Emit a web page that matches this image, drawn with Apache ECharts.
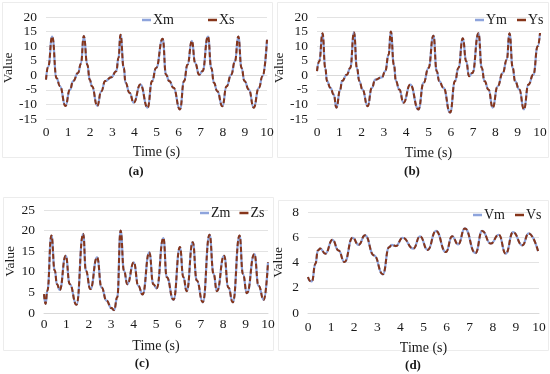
<!DOCTYPE html>
<html>
<head>
<meta charset="utf-8">
<script src="https://cdn.jsdelivr.net/npm/echarts@6/dist/echarts.min.js"></script>
<style>html,body{margin:0;padding:0;background:#fff;}#c{width:550px;height:374px;}</style>
</head>
<body>
<div id="c"></div>
<script>
// ---- Data ----
const timeTicks = [0,1,2,3,4,5,6,7,8,9,10];

const tA = [0,0.1,0.28,0.48,0.63,0.88,1.08,1.23,1.45,1.58,1.71,1.87,1.98,2.08,2.32,2.5,2.68,2.95,3.18,3.28,3.37,3.52,3.6,3.78,3.97,4.27,4.6,4.8,4.98,5.28,5.43,5.58,5.77,6.06,6.25,6.4,6.6,6.75,6.93,7.08,7.33,7.48,7.6,7.75,7.98,8.17,8.38,8.55,8.7,8.85,8.98,9.18,9.4,9.63,9.8,10];
const xm = [-1.5,3,13.3,-1,-3.7,-10.5,-5,-2,0.8,4,13.5,3.6,-1.5,-3.8,-10.5,-5.5,-2,-0.7,1.4,5.9,13.9,2.5,-2.6,-6,-9.4,-3.2,-11.1,-2,2.5,12.5,0.2,-2,-4.3,-11.7,-2,3.6,11.8,4.2,0.2,1.4,13.3,2.5,-2.6,-5.5,-10.6,-3.8,0.2,4.8,13.3,2.5,-2,-4.9,-11.1,-4.3,-0.3,12.2];
const xs = [-1.5,3,13.3,-1,-3.7,-10.5,-5,-2,0.8,4,13.5,3.6,-1.5,-3.8,-10.5,-5.5,-2,-0.7,1.4,5.9,13.9,2.5,-2.6,-6,-9.4,-3.2,-11.1,-2,2.5,12.5,0.2,-2,-4.3,-11.7,-2,3.6,11.8,4.2,0.2,1.4,13.3,2.5,-2.6,-5.5,-10.6,-3.8,0.2,4.8,13.3,2.5,-2,-4.9,-11.1,-4.3,-0.3,12.2];

const tB = [0,0.1,0.25,0.37,0.45,0.6,0.75,0.87,1.04,1.12,1.34,1.49,1.66,1.79,1.9,2.04,2.27,2.46,2.61,2.91,3.06,3.21,3.31,3.45,3.54,3.69,3.88,4.18,4.55,4.78,5.0,5.22,5.37,5.48,5.67,5.97,6.19,6.34,6.54,6.69,6.82,6.97,7.24,7.39,7.51,7.69,7.88,8.1,8.33,8.51,8.63,8.78,8.88,9.07,9.28,9.48,9.7,9.9,10];
const ym = [1.4,4.8,14.4,2.5,-2,-4.3,-6.6,-11.1,-4.9,-2,0.2,2.5,14.7,2.5,-2,-4.9,-10.6,-4.3,-1.5,-0.7,1.4,7,15,3.6,-2,-4.9,-9.4,-3.2,-11.7,-2.6,2.5,13.6,1.4,-2,-4.3,-12.8,-2,2.5,12.7,4.8,-0.3,0.8,14.4,2.5,-2,-4.9,-11.1,-3.8,0.8,5.3,14.4,2.5,-2,-4.9,-11.7,-3.2,0.2,10,14.5];
const ys = [1.4,4.8,14.4,2.5,-2,-4.3,-6.6,-11.1,-4.9,-2,0.2,2.5,14.7,2.5,-2,-4.9,-10.6,-4.3,-1.5,-0.7,1.4,7,15,3.6,-2,-4.9,-9.4,-3.2,-11.7,-2.6,2.5,13.6,1.4,-2,-4.3,-12.8,-2,2.5,12.7,4.8,-0.3,0.8,14.4,2.5,-2,-4.9,-11.1,-3.8,0.8,5.3,14.4,2.5,-2,-4.9,-11.7,-3.2,0.2,10,14.5];

const tC = [0,0.07,0.15,0.33,0.48,0.58,0.7,0.97,1.15,1.45,1.75,1.87,2.07,2.37,2.57,2.79,3.01,3.13,3.27,3.42,3.57,3.72,4.01,4.21,4.4,4.7,4.88,5.03,5.33,5.48,5.78,6.07,6.22,6.37,6.64,6.82,7.09,7.39,7.57,7.72,8.04,8.23,8.43,8.73,8.88,9.06,9.39,9.58,9.81,10];
const zm = [4.6,2.2,5.4,18.8,10.3,7,5.6,13.9,7,2,19.2,10.3,5.8,13.5,6.2,3,1.2,0.7,3.8,20,10.3,7,12.3,6.6,4.5,14.7,7,6,18.2,8.7,3.2,16,8.7,5.3,17.2,7.9,2.6,19,9.5,5.3,13.9,6.2,2.6,18.8,9.5,4.8,14.3,6.6,3.2,12.3];
const zs = [4.6,2.2,5.4,18.8,10.3,7,5.6,13.9,7,2,19.2,10.3,5.8,13.5,6.2,3,1.2,0.7,3.8,20,10.3,7,12.3,6.6,4.5,14.7,7,6,18.2,8.7,3.2,16,8.7,5.3,17.2,7.9,2.6,19,9.5,5.3,13.9,6.2,2.6,18.8,9.5,4.8,14.3,6.6,3.2,12.3];

const tD = [0,0.1,0.17,0.32,0.43,0.53,0.75,1.06,1.32,1.58,1.93,2.19,2.47,2.86,3.24,3.51,3.63,3.8,4.1,4.56,4.85,5.18,5.54,5.97,6.24,6.5,6.79,7.25,7.54,7.91,8.26,8.56,8.88,9.28,9.55,9.96];
const vm = [2.85,2.53,2.5,3.9,4.96,5.1,4.7,5.8,4.96,4.04,5.96,5.4,6.15,4.56,3.06,5.2,5.4,5.3,5.96,5.1,6.07,5.0,6.5,4.83,6.07,5.43,6.7,4.75,6.5,5.5,6.2,4.7,6.4,5.36,6.3,4.9];
const vs = [2.85,2.53,2.5,3.9,4.96,5.1,4.7,5.8,4.96,4.04,5.96,5.4,6.15,4.56,3.06,5.2,5.4,5.3,5.96,5.1,6.07,5.0,6.5,4.83,6.07,5.43,6.7,4.75,6.5,5.5,6.2,4.7,6.4,5.36,6.3,4.9];

// ---- Chart ----
const FONT = '"Liberation Serif", "Times New Roman", serif';
const BLUE = '#8ea4dc';
const RED = '#86351a';
const TXT = '#1a1a1a';

function zip(t, v) { return t.map((x, i) => [x, v[i]]); }

const grids = [
  {left: 44, top: 17, width: 223, height: 102},
  {left: 317, top: 17, width: 223, height: 102},
  {left: 44, top: 210, width: 224, height: 103},
  {left: 308, top: 212, width: 231, height: 101}
];
const yCfg = [
  {min: -15, max: 20, interval: 5, nameGap: 31},
  {min: -15, max: 20, interval: 5, nameGap: 30},
  {min: 0, max: 25, interval: 5, nameGap: 26},
  {min: 0, max: 8, interval: 2, nameGap: 23}
];
const xCfg = [
  {labelMargin: 6, nameGap: 26},
  {labelMargin: 6, nameGap: 27},
  {labelMargin: 4, nameGap: 26},
  {labelMargin: 7, nameGap: 28}
];

const xAxis = grids.map((g, i) => ({
  type: 'value', gridIndex: i, min: 0, max: 10, interval: 1,
  name: 'Time (s)', nameLocation: 'middle', nameGap: xCfg[i].nameGap,
  nameTextStyle: {fontFamily: FONT, fontSize: 14, color: TXT},
  axisLine: {show: true, lineStyle: {color: '#d9d9d9'}},
  axisTick: {show: false},
  splitLine: {show: false},
  axisLabel: {fontFamily: FONT, fontSize: 13.5, color: TXT, margin: xCfg[i].labelMargin,
    formatter: v => timeTicks.includes(v) ? String(v) : ''}
}));
const yAxis = grids.map((g, i) => ({
  type: 'value', gridIndex: i, min: yCfg[i].min, max: yCfg[i].max, interval: yCfg[i].interval,
  name: 'Value', nameLocation: 'middle', nameGap: yCfg[i].nameGap, nameRotate: 90,
  nameTextStyle: {fontFamily: FONT, fontSize: 13.5, color: TXT},
  axisLine: {show: false}, axisTick: {show: false},
  splitLine: {show: true, lineStyle: {color: '#e3e3e3', width: 1}},
  axisLabel: {fontFamily: FONT, fontSize: 13.5, color: TXT, margin: 9}
}));

const names = [['Xm','Xs'],['Ym','Ys'],['Zm','Zs'],['Vm','Vs']];
const times = [tA, tB, tC, tD];
const vals = [[xm, xs],[ym, ys],[zm, zs],[vm, vs]];
const series = [];
for (let i = 0; i < 4; i++) {
  series.push({
    name: names[i][0], type: 'line', xAxisIndex: i, yAxisIndex: i,
    data: zip(times[i], vals[i][0]), smooth: 0.5, smoothMonotone: 'x', showSymbol: false,
    lineStyle: {color: BLUE, width: 2.2}, itemStyle: {color: BLUE}, z: 2
  });
  series.push({
    name: names[i][1], type: 'line', xAxisIndex: i, yAxisIndex: i,
    data: zip(times[i], vals[i][1]), smooth: 0.5, smoothMonotone: 'x', showSymbol: false,
    lineStyle: {color: RED, width: 2, type: [5, 2.5]}, itemStyle: {color: RED}, z: 3
  });
}

const legendPos = [
  {left: 142, top: 13, itemGap: 34},
  {left: 475, top: 13, itemGap: 10},
  {left: 200, top: 206, itemGap: 9},
  {left: 473, top: 208, itemGap: 10}
];
const legend = legendPos.map((p, i) => ({
  data: names[i], left: p.left, top: p.top, itemGap: p.itemGap, orient: 'horizontal',
  icon: 'rect', itemWidth: 9, itemHeight: 2.5, padding: 0,
  textStyle: {fontFamily: FONT, fontSize: 14, color: TXT, padding: [0, 0, 0, -3]}
}));

const boxes = [
  [2, 2, 270, 155], [277, 2, 271, 155], [3, 197, 270, 153], [278, 200, 270, 150]
];
const captions = [['(a)', 136, 172], ['(b)', 412, 172], ['(c)', 142, 364], ['(d)', 413, 366]];
const graphic = [];
boxes.forEach(b => graphic.push({
  type: 'rect', shape: {x: b[0] + 0.5, y: b[1] + 0.5, width: b[2], height: b[3]},
  style: {fill: 'none', stroke: '#ececec', lineWidth: 1}, silent: true, z: -1
}));
captions.forEach(c => graphic.push({
  type: 'text', x: c[1], y: c[2],
  style: {text: c[0], font: 'bold 13px ' + FONT, fill: TXT, textAlign: 'center', textVerticalAlign: 'middle'}
}));

const chart = echarts.init(document.getElementById('c'), null, {renderer: 'canvas'});
chart.setOption({
  animation: false,
  backgroundColor: '#fff',
  grid: grids,
  xAxis: xAxis,
  yAxis: yAxis,
  legend: legend,
  series: series,
  graphic: graphic
});
</script>
</body>
</html>
